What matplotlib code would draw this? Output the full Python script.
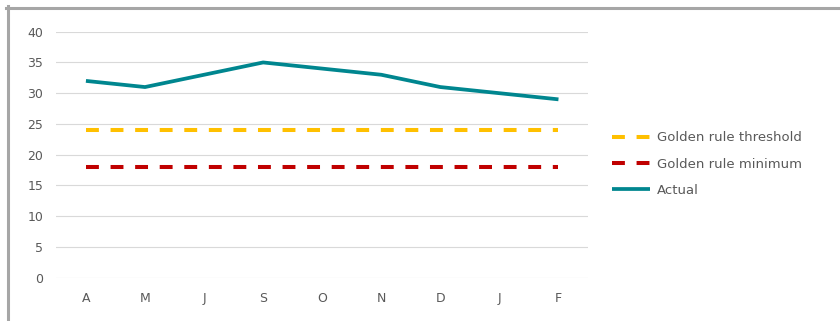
import matplotlib
matplotlib.use("Agg")
import matplotlib.pyplot as plt
from matplotlib.lines import Line2D

months = ["A", "M", "J", "S", "O", "N", "D", "J", "F"]
actual = [32, 31, 33, 35, 34, 33, 31, 30, 29]
threshold = [24] * 9
minimum = [18] * 9
yticks = [0, 5, 10, 15, 20, 25, 30, 35, 40]

teal = "#00868F"
gold = "#FFC000"
red = "#C00000"
grey_txt = "#595959"

plt.rcParams["font.family"] = "DejaVu Sans"

fig = plt.figure(figsize=(8.4, 3.21), dpi=100)
ax = fig.add_axes([56.4 / 840, 43.3 / 321, (588 - 56.4) / 840, 246 / 321])

x = list(range(len(months)))
l_thr, = ax.plot(x, threshold, color=gold, lw=2.9, linestyle=(0, (3.2, 2.9)),
                 dash_capstyle="butt", label="Golden rule threshold")
l_min, = ax.plot(x, minimum, color=red, lw=2.9, linestyle=(0, (3.2, 2.9)),
                 dash_capstyle="butt", label="Golden rule minimum")
l_act, = ax.plot(x, actual, color=teal, lw=2.7, solid_joinstyle="round",
                 solid_capstyle="butt", label="Actual")

ax.set_xlim(-0.5, len(months) - 0.5)
ax.set_ylim(0, 40)
ax.set_yticks(yticks)
ax.set_xticks(x)
ax.set_xticklabels(months)
ax.grid(axis="y", color="#D9D9D9", lw=0.8)
ax.set_axisbelow(True)
for s in ax.spines.values():
    s.set_visible(False)
ax.tick_params(axis="both", length=0, labelsize=9, labelcolor=grey_txt)
ax.tick_params(axis="x", pad=10.5)
ax.tick_params(axis="y", pad=9.5)

leg = ax.legend(handles=[l_thr, l_min, l_act], loc="center left",
                bbox_to_anchor=(612 / 840, (321 - 164) / 321),
                bbox_transform=fig.transFigure, frameon=False, borderpad=0,
                borderaxespad=0, handlelength=2.9, handletextpad=0.5,
                labelspacing=1.0, fontsize=9.5)
for t in leg.get_texts():
    t.set_color(grey_txt)

# outer frame (top and left edges)
fig.add_artist(Line2D([6 / 840, 1], [(321 - 7.5) / 321] * 2, color="#A6A6A6",
                      lw=2.2, transform=fig.transFigure))
fig.add_artist(Line2D([7.5 / 840] * 2, [0, (321 - 6) / 321], color="#A6A6A6",
                      lw=2.2, transform=fig.transFigure))

fig.savefig("out.png", dpi=100)
